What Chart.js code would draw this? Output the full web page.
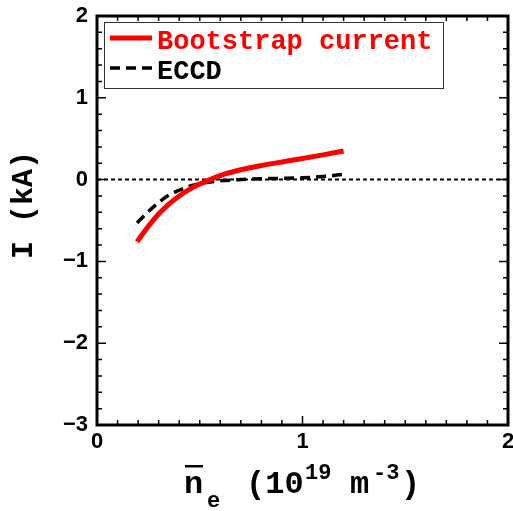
<!DOCTYPE html>
<html>
<head>
<meta charset="utf-8">
<script src="https://cdn.jsdelivr.net/npm/chart.js@4.4.0/dist/chart.umd.min.js"></script>
<style>
    body { margin: 0; background: #fff; }
    #box { width: 513px; height: 511px; }
</style>
</head>
<body>
<div id="box"><canvas id="grafico"></canvas></div>
<script>
// dados
const densidade = [0.195, 0.25, 0.3, 0.35, 0.4, 0.45, 0.5, 0.55, 0.6, 0.7, 0.8, 0.9, 1.0, 1.1, 1.2];
const bootstrap = [-0.76, -0.57, -0.42, -0.30, -0.20, -0.12, -0.055, 0.0, 0.05, 0.12, 0.172, 0.216, 0.257, 0.302, 0.35];
const eccd = [-0.53, -0.39, -0.28, -0.19, -0.13, -0.08, -0.05, -0.03, -0.015, 0.0, 0.01, 0.015, 0.022, 0.037, 0.065];

const ticksX = [0, 1, 2];
const ticksY = [-3, -2, -1, 0, 1, 2];
const passoMenorX = 0.1;
const passoMenorY = 0.2;

function pares(xs, ys) {
    return xs.map((x, i) => ({ x: x, y: ys[i] }));
}

function rotulo(v) {
    return v < 0 ? '\u2212' + Math.abs(v) : String(v);
}

const ctx = document.getElementById('grafico');

// moldura, ticks internos, linha do zero, legenda e títulos
let pluginEixos = {
    id: 'eixos',
    beforeDatasetsDraw: function (chart) {
        let c = chart.ctx;
        let x = chart.scales.x;
        let y = chart.scales.y;
        let y0 = y.getPixelForValue(0);
        c.save();
        c.strokeStyle = '#000';
        c.lineWidth = 2;
        c.setLineDash([4, 3]);
        c.beginPath();
        c.moveTo(x.left, y0);
        c.lineTo(x.right, y0);
        c.stroke();
        c.restore();
    },
    afterDraw: function (chart) {
        let c = chart.ctx;
        let x = chart.scales.x;
        let y = chart.scales.y;
        let a = chart.chartArea;
        c.save();

        // ticks
        c.strokeStyle = '#000';
        c.lineWidth = 1.5;
        c.beginPath();
        for (let v = x.min; v <= x.max + 1e-9; v += passoMenorX) {
            let px = x.getPixelForValue(v);
            let maior = Math.abs(v - Math.round(v)) < 1e-6;
            let len = maior ? 9 : 5;
            c.moveTo(px, a.bottom); c.lineTo(px, a.bottom - len);
            c.moveTo(px, a.top); c.lineTo(px, a.top + len);
        }
        for (let v = y.min; v <= y.max + 1e-9; v += passoMenorY) {
            let py = y.getPixelForValue(v);
            let maior = Math.abs(v - Math.round(v)) < 1e-6;
            let len = maior ? 9 : 5;
            c.moveTo(a.left, py); c.lineTo(a.left + len, py);
            c.moveTo(a.right, py); c.lineTo(a.right - len, py);
        }
        c.stroke();

        // moldura
        c.lineWidth = 3;
        c.strokeRect(a.left, a.top, a.right - a.left, a.bottom - a.top);

        // rótulos dos ticks
        c.fillStyle = '#000';
        c.font = 'bold 22px "Liberation Sans", Arial, sans-serif';
        c.textAlign = 'right';
        c.textBaseline = 'middle';
        ticksY.forEach(v => c.fillText(rotulo(v), a.left - 9, y.getPixelForValue(v)));
        c.textAlign = 'center';
        c.textBaseline = 'top';
        ticksX.forEach(v => c.fillText(rotulo(v), x.getPixelForValue(v), a.bottom + 6));

        // legenda
        c.fillStyle = '#fff';
        c.fillRect(104, 22, 339, 66);
        c.strokeStyle = '#333';
        c.lineWidth = 1;
        c.strokeRect(104.5, 22.5, 339, 66);
        c.font = 'bold 27px "Liberation Mono", "Courier New", monospace';
        c.textAlign = 'left';
        c.textBaseline = 'alphabetic';
        let linhas = [38, 68];
        chart.data.datasets.forEach((ds, i) => {
            c.strokeStyle = ds.borderColor;
            c.lineWidth = ds.borderWidth;
            c.setLineDash(ds.borderDash || []);
            c.beginPath();
            c.moveTo(110, linhas[i]);
            c.lineTo(152, linhas[i]);
            c.stroke();
            c.setLineDash([]);
            c.fillStyle = ds.borderColor;
            c.fillText(ds.label, 157, linhas[i] + 11);
        });

        // título do eixo y
        c.fillStyle = '#000';
        c.save();
        c.translate(32, 205);
        c.rotate(-Math.PI / 2);
        c.textAlign = 'center';
        c.font = 'bold 30px "Liberation Mono", "Courier New", monospace';
        c.fillText('I (kA)', 0, 0);
        c.restore();

        // título do eixo x: n̄e (10^19 m^-3)
        let grande = 'bold 32px "Liberation Mono", "Courier New", monospace';
        let pequena = 'bold 22px "Liberation Mono", "Courier New", monospace';
        let base = 493;
        c.textAlign = 'left';
        c.font = grande;
        c.fillText('n', 184, base);
        c.fillRect(185, 465, 18, 2.5);
        c.fillText('(10', 246, base);
        c.fillText('m', 350, base);
        c.fillText(')', 401, base);
        c.font = pequena;
        c.fillText('e', 207, base + 14);
        c.fillText('19', 305, base - 14);
        c.fillText('-3', 373, base - 14);

        c.restore();
    }
};

new Chart(ctx, {
    type: 'scatter',
    data: {
        datasets: [
            {
                label: 'Bootstrap current',
                data: pares(densidade, bootstrap),
                showLine: true,
                borderColor: '#ff0000',
                borderWidth: 5,
                pointRadius: 0,
                cubicInterpolationMode: 'monotone'
            },
            {
                label: 'ECCD',
                data: pares(densidade, eccd),
                showLine: true,
                borderColor: '#000000',
                borderWidth: 3.5,
                borderDash: [10, 6],
                pointRadius: 0,
                cubicInterpolationMode: 'monotone'
            }
        ]
    },
    options: {
        responsive: true,
        maintainAspectRatio: false,
        animation: false,
        layout: {
            padding: { left: 97, right: 5, top: 16, bottom: 86 }
        },
        scales: {
            x: { type: 'linear', min: 0, max: 2, display: false },
            y: { type: 'linear', min: -3, max: 2, display: false }
        },
        plugins: {
            legend: { display: false },
            tooltip: { enabled: false }
        }
    },
    plugins: [pluginEixos]
});
</script>
</body>
</html>
